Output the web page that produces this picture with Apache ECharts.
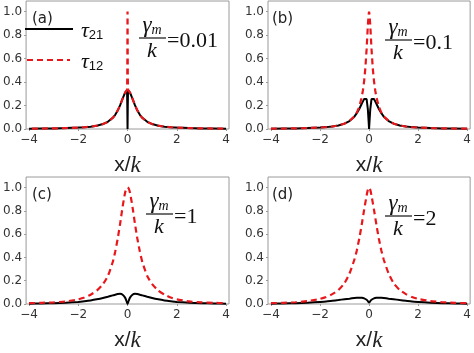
<!DOCTYPE html>
<html>
<head>
<meta charset="utf-8">
<script src="https://cdn.jsdelivr.net/npm/echarts@6/dist/echarts.min.js"></script>
<style>
  html, body { margin: 0; padding: 0; background: #fff; }
  #main { width: 474px; height: 353px; }
</style>
</head>
<body>
<div id="main"></div>
<script>
// tick labels
var xTicks = [-4, -2, 0, 2, 4];
var yTicks = [0, 0.2, 0.4, 0.6, 0.8, 1.0];
var panelNames = ['(a)', '(b)', '(c)', '(d)'];
var gammaVals = ['0.01', '0.1', '1', '2'];

// (a) gamma_m/k = 0.01
var xsA = [-4,-3.5,-3,-2.5,-2,-1.75,-1.5,-1.25,-1,-0.8,-0.6,-0.5,-0.4,-0.3,-0.2,-0.1,-0.05,-0.02,-0.01,0,0.01,0.02,0.05,0.1,0.2,0.3,0.4,0.5,0.6,0.8,1,1.25,1.5,1.75,2,2.5,3,3.5,4];
var t21A = [0.003,0.004,0.005,0.008,0.012,0.015,0.02,0.028,0.042,0.061,0.095,0.121,0.157,0.203,0.258,0.309,0.324,0.329,0.2,0,0.2,0.329,0.324,0.309,0.258,0.203,0.157,0.121,0.095,0.061,0.042,0.028,0.02,0.015,0.012,0.008,0.005,0.004,0.003];
var t12A = [0.003,0.004,0.005,0.008,0.012,0.015,0.02,0.028,0.042,0.061,0.095,0.121,0.157,0.203,0.258,0.309,0.324,0.335,0.45,1.0,0.45,0.335,0.324,0.309,0.258,0.203,0.157,0.121,0.095,0.061,0.042,0.028,0.02,0.015,0.012,0.008,0.005,0.004,0.003];

// (b) gamma_m/k = 0.1
var xsB = [-4,-3.5,-3,-2.5,-2,-1.75,-1.5,-1.25,-1,-0.8,-0.6,-0.5,-0.4,-0.3,-0.25,-0.2,-0.15,-0.1,-0.05,-0.02,0,0.02,0.05,0.1,0.15,0.2,0.25,0.3,0.4,0.5,0.6,0.8,1,1.25,1.5,1.75,2,2.5,3,3.5,4];
var t21B = [0.003,0.004,0.005,0.008,0.012,0.016,0.021,0.03,0.046,0.068,0.105,0.135,0.17,0.215,0.235,0.255,0.27,0.255,0.17,0.07,0,0.07,0.17,0.255,0.27,0.255,0.235,0.215,0.17,0.135,0.105,0.068,0.046,0.03,0.021,0.016,0.012,0.008,0.005,0.004,0.003];
var t12B = [0.003,0.004,0.005,0.008,0.012,0.016,0.021,0.03,0.046,0.068,0.107,0.14,0.19,0.27,0.33,0.41,0.52,0.68,0.88,0.97,1.0,0.97,0.88,0.68,0.52,0.41,0.33,0.27,0.19,0.14,0.107,0.068,0.046,0.03,0.021,0.016,0.012,0.008,0.005,0.004,0.003];

// (c) gamma_m/k = 1 and (d) gamma_m/k = 2
var xsCD = [-4,-3.5,-3,-2.5,-2,-1.75,-1.5,-1.25,-1,-0.8,-0.6,-0.5,-0.4,-0.3,-0.2,-0.1,-0.05,0,0.05,0.1,0.2,0.3,0.4,0.5,0.6,0.8,1,1.25,1.5,1.75,2,2.5,3,3.5,4];
var t21C = [0.003,0.005,0.007,0.011,0.018,0.024,0.031,0.04,0.051,0.062,0.074,0.08,0.085,0.087,0.08,0.055,0.03,0,0.03,0.055,0.08,0.087,0.085,0.08,0.074,0.062,0.051,0.04,0.031,0.024,0.018,0.011,0.007,0.005,0.003];
var t12C = [0.007,0.01,0.014,0.022,0.04,0.055,0.08,0.115,0.17,0.24,0.36,0.45,0.56,0.69,0.835,0.955,0.99,1.0,0.99,0.955,0.835,0.69,0.56,0.45,0.36,0.24,0.17,0.115,0.08,0.055,0.04,0.022,0.014,0.01,0.007];
var t21D = [0.003,0.005,0.007,0.011,0.018,0.022,0.028,0.034,0.041,0.046,0.051,0.053,0.054,0.053,0.048,0.036,0.025,0.012,0.025,0.036,0.048,0.053,0.054,0.053,0.051,0.046,0.041,0.034,0.028,0.022,0.018,0.011,0.007,0.005,0.003];
var t12D = [0.007,0.01,0.015,0.025,0.044,0.06,0.085,0.12,0.18,0.26,0.38,0.46,0.56,0.68,0.81,0.93,0.98,1.0,0.98,0.93,0.81,0.68,0.56,0.46,0.38,0.26,0.18,0.12,0.085,0.06,0.044,0.025,0.015,0.01,0.007];

var panels = [
  { xs: xsA, t21: t21A, t12: t12A, smooth: false },
  { xs: xsB, t21: t21B, t12: t12B, smooth: false },
  { xs: xsCD, t21: t21C, t12: t12C, smooth: 0.2 },
  { xs: xsCD, t21: t21D, t12: t12D, smooth: 0.2 }
];

var RED = '#e8171b';
var GRAY = '#9a9a9a';
var DASH = [6, 4];
var lefts = [26, 268, 26, 268];
var tops = [1, 1, 177, 177];
// fraction bar left end / y, for the gamma_m/k notes
var fracAt = [[139, 38], [385, 40], [146, 214], [385, 216]];
var labelAt = [[32, 19], [272, 19], [32, 195], [272, 195]];

function pairs(xs, ys) {
  return xs.map(function (x, i) { return [x, ys[i]]; });
}
function minus(v) {
  return v < 0 ? '\u2212' + (-v) : '' + v;
}

var grids = [], xAxes = [], yAxes = [], series = [], graphics = [];

panels.forEach(function (p, i) {
  grids.push({
    left: lefts[i], top: tops[i], width: 203, height: 128,
    show: true, borderColor: GRAY, borderWidth: 1, backgroundColor: '#fff'
  });
  xAxes.push({
    type: 'value', gridIndex: i, min: -4.12, max: 4.12,
    axisLine: { show: false, onZero: false },
    splitLine: { show: false },
    axisTick: { show: true, customValues: xTicks, length: 2, lineStyle: { color: GRAY } },
    axisLabel: {
      customValues: xTicks, formatter: minus, margin: 5,
      fontFamily: 'DejaVu Sans', fontSize: 12, color: '#333'
    },
    name: '{x|x/}{k|k}', nameLocation: 'middle', nameGap: 25,
    nameTextStyle: {
      rich: {
        x: { fontFamily: 'Liberation Sans', fontSize: 21, color: '#222' },
        k: { fontFamily: 'Liberation Serif', fontStyle: 'italic', fontSize: 23, color: '#222' }
      }
    }
  });
  yAxes.push({
    type: 'value', gridIndex: i, min: 0, max: 1.09,
    axisLine: { show: false, onZero: false },
    splitLine: { show: false },
    axisTick: { show: true, customValues: yTicks, length: 2, lineStyle: { color: GRAY } },
    axisLabel: {
      customValues: yTicks, margin: 4,
      formatter: function (v) { return v.toFixed(1); },
      fontFamily: 'DejaVu Sans', fontSize: 12, color: '#333'
    }
  });
  series.push({
    type: 'line', name: 'T21', xAxisIndex: i, yAxisIndex: i,
    data: pairs(p.xs, p.t21), symbol: 'none', smooth: p.smooth,
    lineStyle: { color: '#000', width: 2 }, z: 2
  });
  series.push({
    type: 'line', name: 'T12', xAxisIndex: i, yAxisIndex: i,
    data: pairs(p.xs, p.t12), symbol: 'none', smooth: p.smooth,
    lineStyle: { color: RED, width: 2.2, type: DASH }, z: 3
  });

  // panel letter
  graphics.push({
    type: 'text', x: labelAt[i][0], y: labelAt[i][1], z: 100,
    style: { text: panelNames[i], font: '15px "DejaVu Sans"', fill: '#222', verticalAlign: 'middle' }
  });
  // gamma_m / k = value
  var fx = fracAt[i][0], fy = fracAt[i][1];
  graphics.push({
    type: 'text', x: fx + 13, y: fy - 1, z: 100,
    style: {
      text: '{g|\u03b3}{m|m}', align: 'center', verticalAlign: 'bottom',
      rich: {
        g: { fontFamily: 'Liberation Serif', fontStyle: 'italic', fontSize: 23, fill: '#111' },
        m: { fontFamily: 'Liberation Serif', fontStyle: 'italic', fontSize: 14, fill: '#111', verticalAlign: 'bottom' }
      }
    }
  });
  graphics.push({
    type: 'line', z: 100,
    shape: { x1: fx, y1: fy, x2: fx + 27, y2: fy },
    style: { stroke: '#111', lineWidth: 1.2 }
  });
  graphics.push({
    type: 'text', x: fx + 13, y: fy + 2, z: 100,
    style: { text: 'k', font: 'italic 22px "Liberation Serif"', fill: '#111', align: 'center', verticalAlign: 'top' }
  });
  graphics.push({
    type: 'text', x: fx + 28, y: fy + 3, z: 100,
    style: { text: '=' + gammaVals[i], font: '22px "Liberation Serif"', fill: '#111', verticalAlign: 'middle' }
  });
});

// legend drawn in panel (a)
graphics.push({
  type: 'line', z: 100, shape: { x1: 25, y1: 29, x2: 73, y2: 29 },
  style: { stroke: '#000', lineWidth: 2 }
});
graphics.push({
  type: 'line', z: 100, shape: { x1: 27, y1: 60, x2: 70, y2: 60 },
  style: { stroke: RED, lineWidth: 2.2, lineDash: DASH }
});
[['21', 31], ['12', 62]].forEach(function (l) {
  graphics.push({
    type: 'text', x: 81, y: l[1], z: 100,
    style: {
      text: '{t|\u03c4}{s|' + l[0] + '}', verticalAlign: 'middle',
      rich: {
        t: { fontFamily: 'Liberation Serif', fontStyle: 'italic', fontSize: 22, fill: '#111' },
        s: { fontFamily: 'Liberation Sans', fontSize: 13, fill: '#111', verticalAlign: 'bottom' }
      }
    }
  });
});

var chart = echarts.init(document.getElementById('main'));
chart.setOption({
  animation: false,
  backgroundColor: '#fff',
  grid: grids,
  xAxis: xAxes,
  yAxis: yAxes,
  series: series,
  graphic: graphics
});

// the spike in (a) goes up and comes back down on itself: shift the dash
// pattern so both strokes put their dashes in the same place
(function () {
  var pts = pairs(xsA, t12A).map(function (d) {
    return chart.convertToPixel({ gridIndex: 0 }, d);
  });
  var peak = t12A.indexOf(Math.max.apply(null, t12A));
  var len = 0;
  for (var j = 1; j <= peak; j++) {
    len += Math.hypot(pts[j][0] - pts[j - 1][0], pts[j][1] - pts[j - 1][1]);
  }
  var period = DASH[0] + DASH[1];
  var off = ((DASH[0] / 2 - len) % period + period) % period;
  chart.setOption({ series: [{}, { lineStyle: { dashOffset: off } }] });
})();
</script>
</body>
</html>
